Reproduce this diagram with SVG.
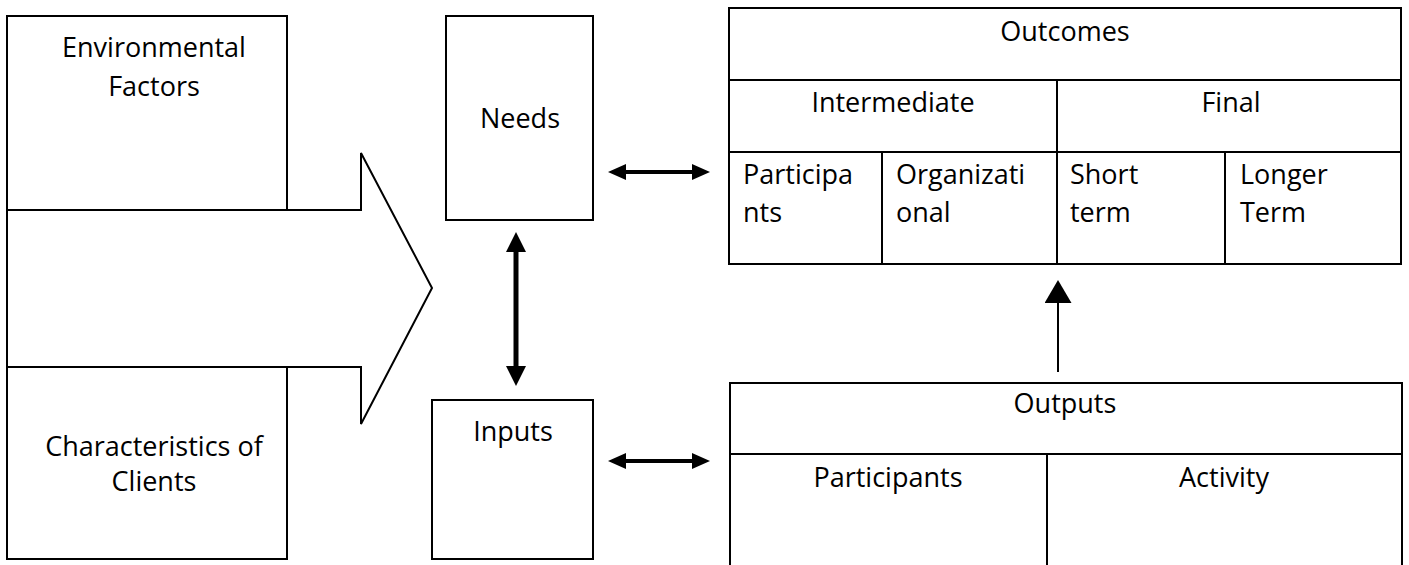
<svg xmlns="http://www.w3.org/2000/svg" width="1409" height="565" viewBox="0 0 1409 565">
<style>
.box{fill:#fff;stroke:#000;stroke-width:2}
.ln{stroke:#000;stroke-width:2;fill:none}
.t{font-family:"Open Sans","Liberation Sans",sans-serif;font-size:27px;fill:#000}
.c{text-anchor:middle}
</style>
<defs>
<marker id="hm" markerUnits="userSpaceOnUse" markerWidth="18" markerHeight="16" refX="4" refY="8" orient="auto-start-reverse"><path d="M0,0 L18,8 L0,16 z" fill="#000"/></marker>
<marker id="vm" markerUnits="userSpaceOnUse" markerWidth="20" markerHeight="20" refX="4" refY="10" orient="auto-start-reverse"><path d="M0,0 L20,10 L0,20 z" fill="#000"/></marker>
<marker id="um" markerUnits="userSpaceOnUse" markerWidth="23" markerHeight="27" refX="4" refY="13.5" orient="auto"><path d="M0,0 L23,13.5 L0,27 z" fill="#000"/></marker>
</defs>
<rect width="1409" height="565" fill="#fff"/>
<g id="bigarrow">
<polygon class="box" points="7,210 361,210 361,153 432,288 361,424 361,367 7,367"/>
</g>
<g id="env">
<rect class="box" x="7" y="16" width="280" height="194"/>
<text class="t c" x="154" y="57">Environmental</text>
<text class="t c" x="154" y="96">Factors</text>
</g>
<g id="clients">
<rect class="box" x="7" y="367" width="280" height="192"/>
<text class="t c" x="154" y="456">Characteristics of</text>
<text class="t c" x="154" y="491">Clients</text>
</g>
<g id="needs">
<rect class="box" x="446" y="16" width="147" height="204"/>
<text class="t c" x="520" y="128">Needs</text>
</g>
<g id="inputs">
<rect class="box" x="432" y="400" width="161" height="159"/>
<text class="t c" x="513" y="441">Inputs</text>
</g>
<g id="outcomes">
<rect class="box" x="729" y="8" width="672" height="256"/>
<line class="ln" x1="729" y1="80" x2="1401" y2="80"/>
<line class="ln" x1="729" y1="152" x2="1401" y2="152"/>
<line class="ln" x1="1057" y1="80" x2="1057" y2="264"/>
<line class="ln" x1="882" y1="152" x2="882" y2="264"/>
<line class="ln" x1="1225" y1="152" x2="1225" y2="264"/>
<text class="t c" x="1065" y="41">Outcomes</text>
<text class="t c" x="893" y="112">Intermediate</text>
<text class="t c" x="1231" y="112">Final</text>
<text class="t" x="743" y="184">Participa</text>
<text class="t" x="743" y="222">nts</text>
<text class="t" x="896" y="184">Organizati</text>
<text class="t" x="896" y="222">onal</text>
<text class="t" x="1070" y="184">Short</text>
<text class="t" x="1070" y="222">term</text>
<text class="t" x="1240" y="184">Longer</text>
<text class="t" x="1240" y="222">Term</text>
</g>
<g id="outputs">
<path class="ln" d="M730,570 L730,383 L1402,383 L1402,570"/>
<line class="ln" x1="730" y1="454" x2="1402" y2="454"/>
<line class="ln" x1="1047" y1="454" x2="1047" y2="570"/>
<text class="t c" x="1065" y="413">Outputs</text>
<text class="t c" x="888" y="487">Participants</text>
<text class="t c" x="1224" y="487">Activity</text>
</g>
<g id="connectors">
<line stroke="#000" stroke-width="4" x1="622" y1="172" x2="696" y2="172" marker-start="url(#hm)" marker-end="url(#hm)"/>
<line stroke="#000" stroke-width="4" x1="622" y1="461" x2="696" y2="461" marker-start="url(#hm)" marker-end="url(#hm)"/>
<line stroke="#000" stroke-width="5" x1="516" y1="248" x2="516" y2="370" marker-start="url(#vm)" marker-end="url(#vm)"/>
<line stroke="#000" stroke-width="2" x1="1058" y1="372" x2="1058" y2="299" marker-end="url(#um)"/>
</g>
</svg>
